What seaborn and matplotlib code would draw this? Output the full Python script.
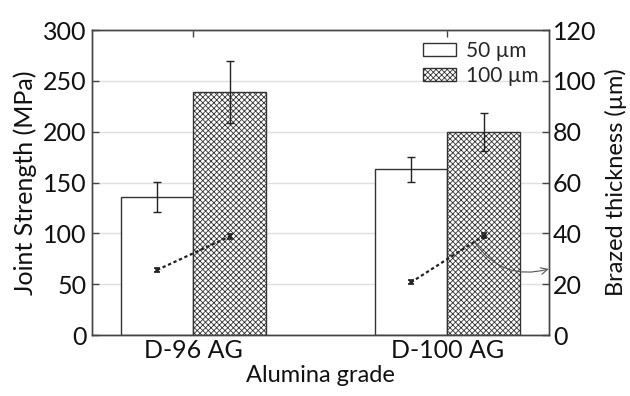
import matplotlib
matplotlib.use("Agg")
import matplotlib.pyplot as plt
import seaborn as sns
import pandas as pd
import numpy as np
from matplotlib.patches import Patch

sns.set_theme(style="white")
plt.rcParams['font.family'] = ['Lato', 'DejaVu Sans']
plt.rcParams['hatch.color'] = '#555555'
plt.rcParams['hatch.linewidth'] = 0.6

categories = ["D-96 AG", "D-100 AG"]
series = ["50 µm", "100 µm"]
strength_50 = [136, 163]
strength_100 = [239, 200]
strength_err_50 = [14.5, 12]
strength_err_100 = [30.5, 18.5]
thick_50 = [25.6, 20.7]
thick_100 = [38.8, 39.0]
thick_err_50 = [0.8, 0.8]
thick_err_100 = [1.0, 1.0]

df = pd.DataFrame({
    "grade": categories * 2,
    "size": [series[0]] * 2 + [series[1]] * 2,
    "strength": strength_50 + strength_100,
})

fig = plt.figure(figsize=(6.3, 3.96), dpi=100)
ax = fig.add_axes([0.146, 0.154, 0.725, 0.770])

ax.yaxis.grid(True, color='#e0e0e0', linewidth=1.0, zorder=0)
ax.set_axisbelow(True)

width = 0.573
sns.barplot(data=df, x="grade", y="strength", hue="size", order=categories,
            hue_order=series, width=width, gap=0, palette=["white", "white"],
            edgecolor='#333333', linewidth=1.0, errorbar=None, ax=ax, legend=False,
            zorder=2)

bw = width / 2
offs = [-bw / 2, bw / 2]
xs = np.arange(len(categories))
bars = ax.patches
for i, p in enumerate(bars):
    if i >= 2:
        p.set_hatch('xxxxxx')

errs = [strength_err_50, strength_err_100]
vals = [strength_50, strength_100]
for k in range(2):
    ax.errorbar(xs + offs[k], vals[k], yerr=errs[k], fmt='none', ecolor='#222222',
                elinewidth=1.0, capsize=3, capthick=1.0, zorder=3)

ax.set_ylim(0, 300)
ax.set_xlim(-0.4, 1.4)
ax.set_yticks(np.arange(0, 301, 50))
ax.set_xlabel("Alumina grade", fontsize=17, color='#111111', labelpad=2)
ax.set_ylabel("Joint Strength (MPa)", fontsize=18, color='#111111', labelpad=4)
ax.tick_params(axis='y', direction='in', length=5, width=1, color='#444444',
               labelsize=18, labelcolor='#111111', pad=4)
ax.tick_params(axis='x', direction='in', length=5, width=1, color='#444444',
               labelsize=18, labelcolor='#111111', top=True, bottom=True, pad=3)
for s in ax.spines.values():
    s.set_color('#444444')
    s.set_linewidth(1.0)

ax2 = ax.twinx()
ax2.set_ylim(0, 120)
ax2.set_yticks(np.arange(0, 121, 20))
ax2.tick_params(axis='y', direction='in', length=5, width=1, color='#444444',
                labelsize=18, labelcolor='#111111', pad=3)
ax2.set_ylabel("Brazed thickness (µm)", fontsize=17, color='#111111', labelpad=6)
for s in ax2.spines.values():
    s.set_color('#444444')
    s.set_linewidth(1.0)

for c in range(len(categories)):
    px = [xs[c] + offs[0], xs[c] + offs[1]]
    py = [thick_50[c], thick_100[c]]
    pe = [thick_err_50[c], thick_err_100[c]]
    ax2.errorbar(px, py, yerr=pe, fmt='x', color='#222222', markersize=3,
                 markeredgewidth=1.2, linestyle=(0, (1.5, 1.2)), linewidth=1.6,
                 elinewidth=1, capsize=2, zorder=4)

ax2.annotate("", xy=(1.4, 26), xycoords='data',
             xytext=(xs[1] + offs[1] - 0.035, 36.5), textcoords='data',
             arrowprops=dict(arrowstyle='->', color='#555555', lw=0.8,
                             connectionstyle='arc3,rad=0.35',
                             shrinkA=0, shrinkB=0),
             annotation_clip=False)

handles = [Patch(facecolor='white', edgecolor='#333333', label=series[0]),
           Patch(facecolor='white', edgecolor='#333333', hatch='xxxxxx', label=series[1])]
ax2.legend(handles=handles, loc='upper right', frameon=False, fontsize=15,
           handlelength=1.6, handleheight=0.6, handletextpad=0.45,
           labelspacing=0.25, borderaxespad=0.2, borderpad=0.3,
           bbox_to_anchor=(1.0, 1.0))

fig.savefig("out.png", dpi=100)
